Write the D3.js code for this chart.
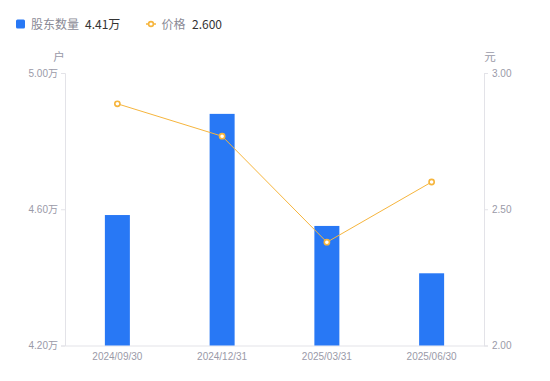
<!DOCTYPE html>
<html>
<head>
<meta charset="utf-8">
<script src="https://cdn.jsdelivr.net/npm/d3@7/dist/d3.min.js"></script>
<style>
  body { margin: 0; background: #fff; }
  svg { display: block; font-family: "Noto Sans CJK SC", "Noto Sans", sans-serif; }
</style>
</head>
<body>
<svg id="chart" width="550" height="381"></svg>
<script>
// data
var dates = ["2024/09/30", "2024/12/31", "2025/03/31", "2025/06/30"];
var holders = [4.583, 4.88, 4.551, 4.412];   // 万户
var prices = [2.887, 2.768, 2.379, 2.600];   // 元
var leftTicks = [4.2, 4.6, 5.0];
var rightTicks = [2.0, 2.5, 3.0];

var svg = d3.select("#chart");
var mLeft = 65, mRight = 484, mTop = 73, mBottom = 345.5;

var x = d3.scaleBand().domain(dates).range([mLeft, mRight]);
var yL = d3.scaleLinear().domain([4.2, 5.0]).range([mBottom, mTop]);
var yR = d3.scaleLinear().domain([2.0, 3.0]).range([mBottom, mTop]);

var grey = "#9a9aa8", axisCol = "#e3e3e8";

// axes
var gl = svg.append("g").attr("transform", "translate(" + mLeft + ",0)")
  .call(d3.axisLeft(yL).tickValues(leftTicks).tickSize(4).tickPadding(3).tickFormat(d => d.toFixed(2) + "万"));
var gr = svg.append("g").attr("transform", "translate(" + mRight + ",0)")
  .call(d3.axisRight(yR).tickValues(rightTicks).tickSize(4).tickPadding(4).tickFormat(d => d.toFixed(2)));
var gx = svg.append("g").attr("transform", "translate(0," + mBottom + ")")
  .call(d3.axisBottom(x).tickSize(0).tickPadding(7));

[gl, gr, gx].forEach(g => {
  g.select(".domain").attr("stroke", axisCol);
  g.selectAll(".tick line").attr("stroke", axisCol);
  g.selectAll("text").attr("fill", grey).attr("font-size", 10).attr("font-family", "'Liberation Sans', 'Noto Sans CJK SC', sans-serif");
});

// unit labels
svg.append("text").attr("x", mLeft - 6).attr("y", 61).attr("text-anchor", "middle")
  .attr("fill", grey).attr("font-size", 11.5).text("户");
svg.append("text").attr("x", mRight + 6).attr("y", 61).attr("text-anchor", "middle")
  .attr("fill", grey).attr("font-size", 11.5).text("元");

// bars
var bw = 25;
svg.append("g").selectAll("rect").data(holders).join("rect")
  .attr("x", (d, i) => x(dates[i]) + x.bandwidth() / 2 - bw / 2)
  .attr("y", d => yL(d))
  .attr("width", bw)
  .attr("height", d => mBottom - yL(d))
  .attr("fill", "#2878f5");

// price line
var line = d3.line().x((d, i) => x(dates[i]) + x.bandwidth() / 2).y(d => yR(d));
svg.append("path").datum(prices).attr("d", line)
  .attr("fill", "none").attr("stroke", "#f6b53d").attr("stroke-width", 1);
svg.append("g").selectAll("circle").data(prices).join("circle")
  .attr("cx", (d, i) => x(dates[i]) + x.bandwidth() / 2)
  .attr("cy", d => yR(d))
  .attr("r", 2.6)
  .attr("fill", "#fff").attr("stroke", "#f6b53d").attr("stroke-width", 1.6);

// legend
var lg = svg.append("g").attr("font-size", 12);
lg.append("rect").attr("x", 16).attr("y", 19.5).attr("width", 9).attr("height", 9).attr("rx", 1.5).attr("fill", "#2878f5");
lg.append("text").attr("x", 31).attr("y", 29).attr("fill", "#8a8a96").text("股东数量");
lg.append("text").attr("x", 85).attr("y", 29).attr("fill", "#333").text(holders[3].toFixed(2) + "万");
lg.append("line").attr("x1", 146).attr("x2", 156).attr("y1", 24).attr("y2", 24).attr("stroke", "#f6b53d").attr("stroke-width", 1.5);
lg.append("circle").attr("cx", 151).attr("cy", 24).attr("r", 2.4).attr("fill", "#fff").attr("stroke", "#f6b53d").attr("stroke-width", 1.6);
lg.append("text").attr("x", 161.5).attr("y", 29).attr("fill", "#8a8a96").text("价格");
lg.append("text").attr("x", 192).attr("y", 29).attr("fill", "#333").text(prices[3].toFixed(3));
</script>
</body>
</html>
